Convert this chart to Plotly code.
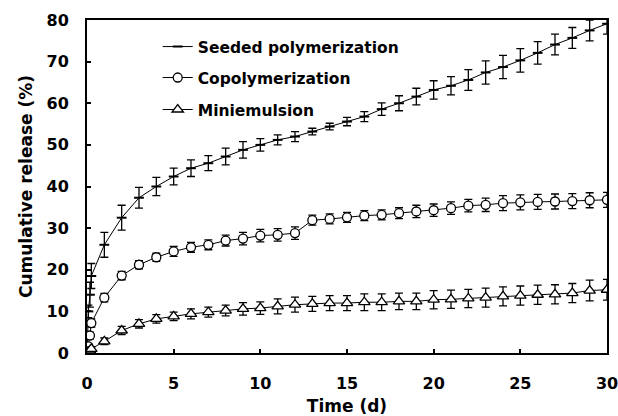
import plotly.graph_objects as go

time_d = [0, 0.08, 0.17, 0.25] + list(range(1, 31))

seeded = [0, 10, 14, 18.5,
          26, 32.5, 37.3, 40, 42.4,
          44.4, 45.6, 47.2, 48.8, 50,
          51.2, 52, 53.2, 54.4, 55.6,
          56.8, 58.6, 60, 61.6, 63.2,
          64.2, 65.6, 67.4, 68.7, 70.3,
          72.1, 74.1, 75.7, 77.5, 79.1]
seeded_err = [0, 1.5, 3, 3,
              3, 3, 2.5, 2.2, 2,
              2, 1.8, 2, 2, 1.5,
              1.2, 1.2, 0.8, 0.8, 1,
              1.2, 1.5, 1.8, 2, 2.2,
              2.2, 2.5, 2.8, 2.8, 2.8,
              2.7, 2.5, 2.5, 2.5, 2.5]

copoly = [0, 1.6, 4.2, 7.2,
          13.3, 18.6, 21.2, 23, 24.4,
          25.4, 26, 27, 27.5, 28.2,
          28.4, 28.8, 31.9, 32.2, 32.6,
          33, 33.2, 33.6, 34, 34.3,
          34.8, 35.4, 35.6, 36, 36.2,
          36.3, 36.4, 36.5, 36.7, 36.8]
copoly_err = [0, 0.5, 0.8, 1,
              1, 1, 1, 1, 1.2,
              1.2, 1.2, 1.3, 1.5, 1.5,
              1.5, 1.5, 1.2, 1.2, 1.2,
              1.2, 1.2, 1.3, 1.5, 1.5,
              1.5, 1.5, 1.6, 1.8, 1.8,
              1.8, 1.8, 1.8, 1.8, 1.8]

mini = [0, 0.3, 0.6, 1.0,
        2.8, 5.4, 7.0, 8.2, 8.8,
        9.4, 9.8, 10.2, 10.6, 10.8,
        11.2, 11.6, 11.8, 12.0, 12.0,
        12.2, 12.2, 12.4, 12.4, 12.8,
        12.9, 13.1, 13.3, 13.6, 13.8,
        14.0, 14.1, 14.4, 15.0, 15.2]
mini_err = [0, 0.3, 0.5, 0.5,
            0.8, 1, 1, 1, 1,
            1.2, 1.2, 1.3, 1.5, 1.5,
            1.8, 1.8, 1.8, 1.8, 1.8,
            2, 2, 2, 2, 2.2,
            2.2, 2.2, 2.3, 2.3, 2.3,
            2.3, 2.3, 2.3, 2.5, 2.5]

series_names = ["Seeded polymerization", "Copolymerization", "Miniemulsion"]

FONT = "DejaVu Sans, Arial, sans-serif"

fig = go.Figure()

def err(vals):
    return dict(type="data", array=vals, visible=True, color="black",
                thickness=1.3, width=4)

fig.add_trace(go.Scatter(
    x=time_d, y=seeded, name=series_names[0], mode="lines+markers",
    line=dict(color="black", width=1),
    marker=dict(symbol="line-ew", size=7, color="black",
                line=dict(color="black", width=2)),
    error_y=err(seeded_err), legend="legend"))

fig.add_trace(go.Scatter(
    x=time_d, y=copoly, name=series_names[1], mode="lines+markers",
    line=dict(color="black", width=1),
    marker=dict(symbol="circle", size=9, color="white",
                line=dict(color="black", width=1.3)),
    error_y=err(copoly_err), legend="legend2"))

fig.add_trace(go.Scatter(
    x=time_d, y=mini, name=series_names[2], mode="lines+markers",
    line=dict(color="black", width=1),
    marker=dict(symbol="triangle-up", size=10, color="white",
                line=dict(color="black", width=1.3)),
    error_y=err(mini_err), legend="legend3"))

legend_common = dict(xanchor="left", yanchor="middle", bgcolor="rgba(0,0,0,0)",
                     font=dict(family=FONT, size=15.5, color="black", weight="bold"),
                     borderwidth=0)

fig.update_layout(
    width=618, height=416,
    margin=dict(l=87, r=11, t=20, b=63),
    paper_bgcolor="white", plot_bgcolor="white",
    showlegend=True,
    legend=dict(x=0.136, y=0.919, **legend_common),
    legend2=dict(x=0.136, y=0.826, **legend_common),
    legend3=dict(x=0.136, y=0.730, **legend_common),
    xaxis=dict(range=[0, 30], tickvals=[0, 5, 10, 15, 20, 25, 30],
               ticks="inside", ticklen=4, tickwidth=1.5, tickcolor="black",
               showline=True, linecolor="black", linewidth=2, mirror=True,
               showgrid=False, zeroline=False, ticklabelstandoff=15,
               automargin=False, ticklabeloverflow="allow",
               tickfont=dict(family=FONT, size=16, color="black", weight="bold"),
               title=dict(text="Time (d)", standoff=8,
                          font=dict(family=FONT, size=17, color="black", weight="bold"))),
    yaxis=dict(range=[0, 80], tickvals=[0, 10, 20, 30, 40, 50, 60, 70, 80],
               ticks="inside", ticklen=4, tickwidth=1.5, tickcolor="black",
               showline=True, linecolor="black", linewidth=2, mirror=True,
               showgrid=False, zeroline=False, ticklabelstandoff=13,
               automargin=False, ticklabeloverflow="allow",
               tickfont=dict(family=FONT, size=16, color="black", weight="bold"),
               title=dict(text="Cumulative release (%)", standoff=10,
                          font=dict(family=FONT, size=17, color="black", weight="bold"))),
)

fig.write_html("out.html")
